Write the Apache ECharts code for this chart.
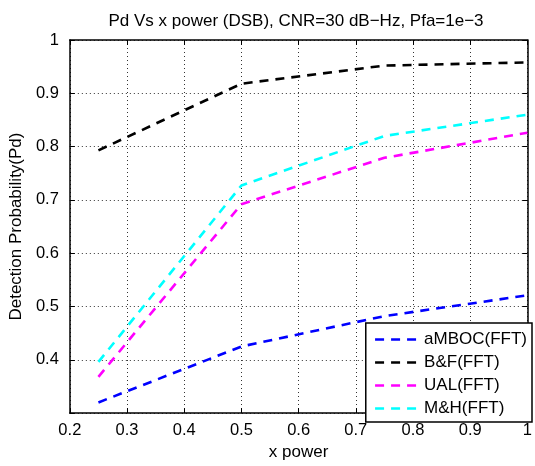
<!DOCTYPE html>
<html>
<head>
<meta charset="utf-8">
<script src="https://cdn.jsdelivr.net/npm/echarts@6/dist/echarts.min.js"></script>
<style>html,body{margin:0;padding:0;background:#fff;}#c{width:535px;height:466px;}</style>
</head>
<body>
<div id="c"></div>
<script>
const xPower = [0.25, 0.5, 0.75, 1];
const aMBOC = [0.32, 0.425, 0.482, 0.521];
const BF = [0.793, 0.918, 0.952, 0.958];
const UAL = [0.368, 0.692, 0.779, 0.826];
const MH = [0.396, 0.727, 0.820, 0.860];
const seriesNames = ['aMBOC(FFT)', 'B&F(FFT)', 'UAL(FFT)', 'M&H(FFT)'];
const seriesColors = ['#0000ff', '#000000', '#ff00ff', '#00ffff'];
const seriesData = [aMBOC, BF, UAL, MH];

const FONT = 'Liberation Sans, Arial, Helvetica, sans-serif';
const chart = echarts.init(document.getElementById('c'), null, {renderer: 'canvas'});

const gridLine = {show: true, lineStyle: {color: '#333', type: [1, 3], width: 1}};
const axLine = {show: true, lineStyle: {color: '#000', width: 1.5}};
const tick = {show: true, inside: true, length: 5, lineStyle: {color: '#000', width: 1}};

chart.setOption({
  animation: false,
  backgroundColor: '#fff',
  title: {
    text: 'Pd Vs x power (DSB), CNR=30 dB\u2212Hz, Pfa=1e\u22123',
    left: 291, textAlign: 'center', top: 8,
    textStyle: {fontFamily: FONT, fontSize: 17, fontWeight: 'normal', color: '#000'}
  },
  grid: {left: 61, right: 3, top: 40, bottom: 44, containLabel: false},
  legend: {
    orient: 'vertical', right: 3, bottom: 44,
    backgroundColor: '#fff', borderColor: '#000', borderWidth: 1.5, borderRadius: 0,
    padding: [8, 5, 5, 8],
    itemWidth: 44, itemHeight: 17, itemGap: 6,
    textStyle: {fontFamily: FONT, fontSize: 17, color: '#000'},
    itemStyle: {opacity: 0},
    lineStyle: {width: 2.6, opacity: 1},
    data: seriesNames
  },
  xAxis: [{
    type: 'value', min: 0.2, max: 1, interval: 0.1,
    name: 'x power', nameLocation: 'middle', nameGap: 27,
    nameTextStyle: {fontFamily: FONT, fontSize: 17, color: '#000'},
    axisLine: axLine, axisTick: tick, splitLine: gridLine,
    axisLabel: {fontFamily: FONT, fontSize: 16.5, color: '#000', margin: 9,
      formatter: v => String(Math.round(v * 10) / 10)}
  }, {
    type: 'value', position: 'top', min: 0.2, max: 1, interval: 0.1,
    axisLine: axLine, axisTick: tick, splitLine: {show: false}, axisLabel: {show: false}
  }],
  yAxis: [{
    type: 'value', min: 0.3, max: 1, interval: 0.1,
    name: 'Detection Probability(Pd)', nameLocation: 'middle', nameGap: 35,
    nameTextStyle: {fontFamily: FONT, fontSize: 17, color: '#000'},
    axisLine: axLine, axisTick: tick, splitLine: gridLine,
    axisLabel: {fontFamily: FONT, fontSize: 16.5, color: '#000', margin: 11,
      formatter: v => (v < 0.35 ? '' : String(Math.round(v * 10) / 10))}
  }, {
    type: 'value', position: 'right', min: 0.3, max: 1, interval: 0.1,
    axisLine: axLine, axisTick: tick, splitLine: {show: false}, axisLabel: {show: false}
  }],
  series: seriesNames.map((n, i) => ({
    name: n, type: 'line', xAxisIndex: 0, yAxisIndex: 0,
    data: xPower.map((x, j) => [x, seriesData[i][j]]),
    symbol: 'none', showSymbol: false,
    lineStyle: {color: seriesColors[i], width: 2.6, type: [9, 7]},
    itemStyle: {color: seriesColors[i]},
    emphasis: {disabled: true}
  }))
});
</script>
</body>
</html>
